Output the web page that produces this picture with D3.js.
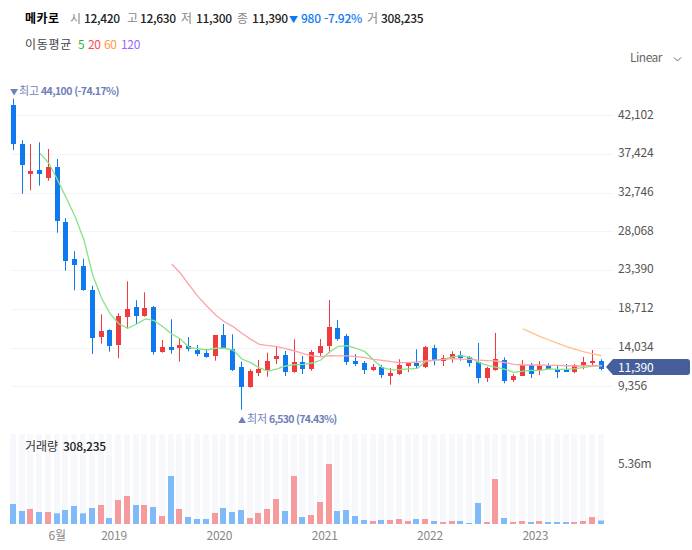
<!DOCTYPE html>
<html lang="ko"><head><meta charset="utf-8">
<script src="https://cdnjs.cloudflare.com/ajax/libs/d3/7.8.5/d3.min.js"></script>
<style>
html,body{margin:0;padding:0;background:#fff}
svg{display:block}
text{font-family:"Noto Sans CJK KR","Noto Sans",sans-serif}
</style></head><body>
<svg id="c" width="692" height="550"></svg>
<script>
const opens  = [43340,38630,35040,35490,34560,35850,29200,24730,23890,20990,15350,16160,14380,17760,18940,17850,18940,13540,14100,14020,14220,13740,13380,13050,15550,13860,11690,9270,10960,11330,12650,13140,11080,12290,11450,13380,14220,16400,15430,12410,12170,11330,11690,10600,10840,11810,12170,11690,13980,12410,12650,13140,12900,12290,10360,11330,12530,10120,10600,11890,11330,11810,11450,11450,11080,11930,12170,12420];
const highs  = [44100,39070,38630,38830,38020,36810,29650,25660,24770,21510,18050,16240,18170,22040,19750,20710,19060,14950,17450,15110,15310,14350,13860,15550,16880,15640,12330,11410,12530,13420,14220,13620,15030,13020,13740,15070,19780,17370,15670,13260,12410,12050,11930,11570,12620,12290,13830,14220,14380,13140,13580,13620,13020,14590,11720,15800,12860,10840,12530,12170,12410,12130,11810,12050,12050,12900,13740,12630];
const lows   = [37900,32620,33030,33590,34190,27910,23320,20950,20900,13260,14500,13540,12740,16310,16880,17760,13170,13420,13290,12330,13580,12980,12810,12450,14020,11200,6530,9190,10600,10520,12050,10600,11000,10840,11240,13020,13340,14860,11930,11810,10840,11200,10360,9550,10720,11080,11570,11570,11890,11810,12210,12450,11720,9720,9880,11240,9720,9880,10600,10360,10720,11410,10360,11080,10930,11410,11720,11300];
const closes = [38660,36130,35360,35040,35850,29360,24530,24050,20990,15230,16040,14260,17850,18690,17880,18820,13540,14100,13780,14350,13860,13260,12900,15550,14020,11330,9310,11200,11450,12410,13020,11080,12290,11450,13500,14220,16520,15070,12290,12050,11330,11690,10720,10960,11930,12170,11810,14100,12530,12780,13260,12780,12170,10360,11570,12650,10000,10600,11890,10840,11810,11450,11080,11080,11930,12290,12370,11390];
const volumes = [1787000,1161000,1340000,1072000,1072000,956000,1251000,1608000,956000,1429000,1697000,536000,2144000,2501000,1697000,1697000,1519000,715000,4288000,1340000,625000,447000,447000,983000,1429000,1072000,1251000,536000,983000,1340000,2233000,1161000,4288000,625000,804000,1965000,5360000,1161000,1251000,715000,357000,268000,357000,357000,447000,268000,447000,447000,268000,179000,268000,268000,89000,1876000,179000,4020000,536000,179000,268000,179000,268000,179000,179000,179000,179000,268000,625000,308235];
const ma5 = [null,null,null,37500,36290,34280,32070,29840,27030,22800,19990,18090,16880,16360,16880,17490,17280,16560,15670,15070,14020,13900,13740,13950,13950,13740,12650,12210,11570,11200,11450,11810,11970,12010,12170,12530,13540,14190,14260,13950,13540,12530,11600,11330,11360,11450,11530,12410,12530,12620,12900,13050,12860,12210,11890,11650,11410,11050,11200,11290,11290,11450,11410,11410,11480,11650,11810,11890];
const ma20 = [null,null,null,null,null,null,null,null,null,null,null,null,null,null,null,null,null,null,24130,23010,21590,20180,19060,17970,17160,16560,15760,15030,14430,14260,14140,13900,13620,13290,13020,12900,13050,13020,13020,12930,12810,12620,12500,12330,12210,12210,12290,12410,12530,12620,12690,12650,12620,12530,12450,12410,12210,12010,11930,11930,11930,11890,11890,11840,11810,11840,11840,11840];
const ma60 = [null,null,null,null,null,null,null,null,null,null,null,null,null,null,null,null,null,null,null,null,null,null,null,null,null,null,null,null,null,null,null,null,null,null,null,null,null,null,null,null,null,null,null,null,null,null,null,null,null,null,null,null,null,null,null,null,null,null,16310,15830,15350,14950,14550,14140,13830,13500,13260,13050];
const priceTicks = [42102,37424,32746,28068,23390,18712,14034,9356];
const timeTickIndex = [5,12,24,36,48,60];
const timeTickLabels = ["6월","2019","2020","2021","2022","2023"];
const maPeriods = ["5","20","60","120"];
const maColors = ["#2fb52f","#ff4a4f","#ff9a45","#9a66ff"];
const headerItems = [["시","12,420"],["고","12,630"],["저","11,300"],["종","11,390"]];

const UP="#ef3a3e", DOWN="#0f7aef", VUP="#f59a9d", VDOWN="#80baf8";
const svg=d3.select("#c");
const n=closes.length;
const x=d3.scalePoint().domain(d3.range(n)).range([13.25,601.24]);
const px=i=>Math.floor(x(i));
const y=d3.scaleLinear().domain([9356,42102]).range([386.3,115.2]);
const yv=d3.scaleLinear().domain([0,5360000]).range([524,464]);
const ry=v=>Math.round(y(v));

// grid
const grid=svg.append("g").attr("transform","translate(613,0)")
  .call(d3.axisLeft(y).tickValues(priceTicks).tickSize(602).tickFormat(""));
grid.select(".domain").remove();
grid.selectAll(".tick").attr("transform",d=>`translate(0,${ry(d)+.5})`);
grid.selectAll("line").attr("stroke","#f2f4f7");

// price labels
const ya=svg.append("g").attr("transform","translate(618,-1)")
  .call(d3.axisRight(y).tickValues(priceTicks).tickSize(0).tickPadding(0).tickFormat(d3.format(",")));
ya.select(".domain").remove();
ya.selectAll("text").attr("font-size",12).attr("fill","#555").attr("letter-spacing",-0.2).style("font-family",'"Noto Sans CJK KR"');

// candles
const idx=d3.range(n);
const cg=svg.append("g");
cg.selectAll("rect.w").data(idx).join("rect").attr("class","w")
  .attr("x",i=>px(i)).attr("width",1)
  .attr("y",i=>y(highs[i])).attr("height",i=>y(lows[i])-y(highs[i]))
  .attr("fill",i=>closes[i]>=opens[i]?UP:DOWN);
cg.selectAll("rect.b").data(idx).join("rect").attr("class","b")
  .attr("x",i=>px(i)-2).attr("width",5)
  .attr("y",i=>ry(Math.max(opens[i],closes[i])))
  .attr("height",i=>Math.max(1,ry(Math.min(opens[i],closes[i]))-ry(Math.max(opens[i],closes[i]))))
  .attr("fill",i=>closes[i]>=opens[i]?UP:DOWN);

// moving averages
const line=d3.line().defined(d=>d.v!==null).x(d=>x(d.i)+.5).y(d=>y(d.v));
[[ma5,"#86e386"],[ma20,"#ffa3a6"],[ma60,"#ffc28a"]].forEach(([s,c])=>{
  svg.append("path").attr("d",line(s.map((v,i)=>({v,i})))).attr("fill","none").attr("stroke",c).attr("stroke-width",1.3);
});

// volume
const vg=svg.append("g");
vg.selectAll("rect.bg").data(idx).join("rect").attr("class","bg")
  .attr("x",i=>px(i)-3).attr("width",6).attr("y",434).attr("height",90).attr("fill","#f6f8fc");
vg.selectAll("rect.v").data(idx).join("rect").attr("class","v")
  .attr("x",i=>px(i)-3).attr("width",6)
  .attr("y",i=>yv(volumes[i])).attr("height",i=>yv(0)-yv(volumes[i]))
  .attr("fill",i=>closes[i]>=opens[i]?VUP:VDOWN);

// time axis
const xa=svg.append("g").attr("transform","translate(0,529)")
  .call(d3.axisBottom(x).tickValues(timeTickIndex).tickSize(0).tickPadding(0).tickFormat(i=>timeTickLabels[timeTickIndex.indexOf(i)]));
xa.select(".domain").remove();
xa.selectAll(".tick").attr("transform",i=>`translate(${i===5?x(i):x(i)-4.5},0)`);
xa.selectAll("text").attr("font-size",12).attr("fill","#888").attr("y",0).attr("dy","0.95em").attr("letter-spacing",-0.2).style("font-family",'"Noto Sans CJK KR"');

function t(xp,yp,s,o={}){
  return svg.append("text").attr("x",xp).attr("y",yp).text(s)
    .attr("font-size",o.size||12).attr("fill",o.fill||"#333")
    .attr("font-weight",o.w||400).attr("text-anchor",o.a||"start")
    .attr("letter-spacing",o.ls||0);
}
// header
t(25,23,"메카로",{fill:"#000",w:700,ls:0.5});
const hx=[[70,84],[127,140],[181,196],[237,252]];
headerItems.forEach((h,i)=>{t(hx[i][0],23,h[0],{fill:"#888"});t(hx[i][1],23,h[1],{fill:"#222",w:500,ls:-0.35});});
t(289,23,"▼",{fill:"#0f7aef",size:9});
t(301,23,"980 -7.92%",{fill:"#0f7aef",w:500,ls:-0.25});
t(367,23,"거",{fill:"#888"});
t(381,23,"308,235",{fill:"#222",w:500,ls:-0.35});
t(25,49,"이동평균",{fill:"#444",ls:0.7});
const mx=[78,88,104,121];
maPeriods.forEach((m,i)=>t(mx[i],49,m,{fill:maColors[i],ls:-0.3}));
t(630,62,"Linear",{fill:"#666",ls:-0.5});
svg.append("path").attr("d","M674 57.5l3.5 3.5l3.5-3.5").attr("fill","none").attr("stroke","#666");

// hi/lo markers
const LB="#6f80b8";
t(10,95,"▼",{fill:LB,size:8});
t(19,95,"최고",{fill:LB,size:11});
t(41,95,"44,100 (-74.17%)",{fill:LB,size:10.5,w:700,ls:-0.6});
t(238,423,"▲",{fill:LB,size:8});
t(247,423,"최저",{fill:LB,size:11});
t(269,423,"6,530 (74.43%)",{fill:LB,size:10.5,w:700,ls:-0.7});

// last-price tag
const ly=367;
svg.append("path").attr("d",`M606 ${ly}L613 ${ly-8}H687a3 3 0 0 1 3 3V${ly+5}a3 3 0 0 1-3 3H613Z`).attr("fill","#465f9b");
t(618,ly+4.5,d3.format(",")(closes[n-1]),{fill:"#fff",ls:-0.2});

// volume labels
t(25,451,"거래량",{fill:"#333"});
t(63,451,"308,235",{fill:"#222",w:500,ls:-0.25});
const va=svg.append("g").attr("transform","translate(618,0)")
  .call(d3.axisRight(yv).tickValues([5360000]).tickSize(0).tickPadding(0).tickFormat(d=>d3.format(".2f")(d/1e6)+"m"));
va.select(".domain").remove();
va.selectAll("text").attr("font-size",12).attr("fill","#555").attr("letter-spacing",-0.2).style("font-family",'"Noto Sans CJK KR"');
</script>
</body></html>
